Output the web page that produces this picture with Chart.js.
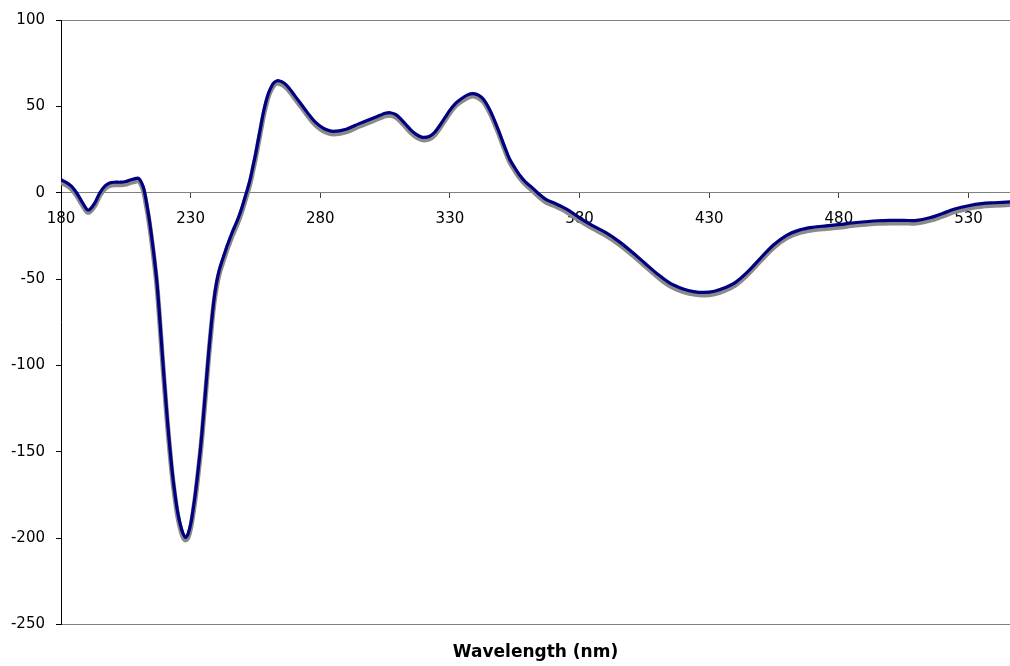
<!DOCTYPE html>
<html>
<head>
<meta charset="utf-8">
<script src="https://cdn.jsdelivr.net/npm/chart.js@4.4.1/dist/chart.umd.min.js"></script>
<style>
  body { margin: 0; background: #fff; }
</style>
</head>
<body>
<canvas id="chart-canvas" width="1010" height="666"></canvas>
<script>
// wavelength (nm)
var wavelength = [180,182,184,186,188,190,191,193,195,197,199,201,203,205,207,209,210,211,212,213,
  214,215,216,217,218,219,220,221,222,223,224,225,226,227,228,229,230,231,232,233,
  234,235,236,237,238,239,240,241,242,243,244,245,246,247,248,249,250,251,252,253,
  254,255,256,257,258,259,260,261,262,263,264,266,268,270,272,274,276,278,280,282,
  285,290,295,300,303,305,307,309,311,313,315,317,319,320,322,324,326,328,330,332,
  334,337,339,341,343,345,347,349,351,353,355,357,359,362,364,367,370,375,380,385,
  390,395,400,405,410,415,420,424,428,432,436,440,445,450,455,460,465,470,475,480,
  485,490,495,500,505,510,515,520,525,530,535,540,546];

// dark blue trace
var blueValues = [7.5,6,3.8,0,-5,-9.7,-9.8,-6,0,4,5.8,6.1,6.1,6.5,7.5,8.3,8.3,6,2,-6,
  -15,-26,-38,-52,-71,-92,-112,-131,-148,-163,-175,-185,-192,-197,-199.5,-197.5,-192,-183,-172,-159,
  -145,-128,-110,-92,-76,-62,-52,-45,-40,-35.5,-31,-27,-23,-19.5,-16,-12,-7.5,-2.5,2.5,8,
  15,22,30,38,46,52.5,57.5,61,63.5,64.6,64.8,63.5,60.5,56.5,52.5,48.5,44.5,41,38.5,36.7,
  35.5,36.8,40,43,44.8,46,46.3,45.3,42.8,39.5,36.3,33.8,32.3,32,32.6,34.8,38.8,43.3,47.8,51.5,
  54,56.8,57.4,56.5,54,49,42.5,35,27,19.5,14.5,10,6.5,2.5,-0.3,-3.9,-5.8,-9.5,-14.5,-19,
  -23,-28,-34,-40.5,-47,-52.5,-55.7,-57.2,-57.7,-57,-55,-52,-45.5,-37.5,-30,-24.5,-21.5,-20,-19.2,-18.5,
  -17.5,-16.8,-16.2,-16,-16,-16,-14.5,-12,-9.3,-7.5,-6.3,-5.8,-5.3];

// grey trace (sits just under the blue one)
var greyValues = [6,4.5,2.3,-1.5,-6.5,-11,-11.2,-7.5,-1.5,2.5,4.3,4.6,4.6,5,6,6.8,6.8,4.5,0,-8,
  -17,-28,-40,-54,-73,-94,-114,-133,-150,-165,-177,-187,-194,-199,-201,-199.5,-194,-185,-174,-161,
  -147,-130,-112,-94,-78,-64,-54,-47,-42,-37.5,-33,-29,-25,-21.5,-18,-14,-9.5,-4.5,0.5,6,
  13,20,28,36,44,50.5,56,59.5,62,63.2,63.4,62,59,55,51,47,43,39.5,37,35.2,
  34,35.3,38.5,41.5,43.3,44.5,44.8,43.8,41.3,38,34.8,32.3,30.8,30.5,31.1,33.3,37.3,41.8,46.3,50,
  52.5,55.3,56,55,52.5,47.5,41,33.5,25.5,18,13,8.5,5,1,-1.8,-5.4,-7.3,-11,-16,-20.5,
  -24.5,-29.5,-35.5,-42,-48.5,-54,-57.2,-58.7,-59.2,-58.5,-56.5,-53.5,-47,-39,-31.5,-26,-23,-21.5,-20.7,-20,
  -19,-18.3,-17.7,-17.5,-17.5,-17.5,-16,-13.5,-10.8,-9,-7.8,-7.3,-6.8];

var xTicks = [180,230,280,330,380,430,480,530];
var yTicks = [100,50,0,-50,-100,-150,-200,-250];

function toPoints(xs, ys){
  var out = [];
  for (var i = 0; i < xs.length; i++) out.push({x: xs[i], y: ys[i]});
  return out;
}

var tickFont = {family: "'DejaVu Sans', Verdana, sans-serif", size: 15};

var ctx = document.getElementById("chart-canvas");
new Chart(ctx, {
  type: "line",
  data: {
    datasets: [
      {
        label: "blue",
        data: toPoints(wavelength, blueValues),
        borderColor: "#000080",
        borderWidth: 3.2,
        pointRadius: 0,
        tension: 0.35
      },
      {
        label: "grey",
        data: toPoints(wavelength, greyValues),
        borderColor: "#8a8a8a",
        borderWidth: 5,
        pointRadius: 0,
        tension: 0.35
      }
    ]
  },
  options: {
    responsive: false,
    animation: false,
    layout: { padding: { top: 20, left: 0, right: 0, bottom: 0 } },
    plugins: {
      legend: { display: false },
      tooltip: { enabled: false },
      title: {
        display: true,
        position: "bottom",
        fullSize: false,
        text: "Wavelength (nm)",
        color: "#000",
        font: { family: "'DejaVu Sans', Verdana, sans-serif", size: 17, weight: "bold" },
        padding: { top: 18, bottom: 3 }
      }
    },
    scales: {
      x: {
        type: "linear",
        position: { y: 0 },
        min: 180,
        max: 546,
        afterBuildTicks: function(s){ s.ticks = xTicks.map(function(v){ return {value: v}; }); },
        border: { color: "#808080", width: 1 },
        grid: { drawOnChartArea: false, drawTicks: true, tickLength: 5, tickColor: "#444" },
        ticks: { color: "#000", font: tickFont, padding: 12, maxRotation: 0, autoSkip: false }
      },
      y: {
        min: -250,
        max: 100,
        afterBuildTicks: function(s){ s.ticks = yTicks.map(function(v){ return {value: v}; }); },
        afterFit: function(s){ s.width = 61; },
        border: { color: "#000", width: 1 },
        grid: {
          color: function(c){ return (c.tick && (c.tick.value === 100 || c.tick.value === -250)) ? "#808080" : "rgba(0,0,0,0)"; },
          tickColor: "#000",
          tickLength: 5
        },
        ticks: { color: "#000", font: tickFont, padding: 11 }
      }
    }
  }
});
</script>
</body>
</html>
